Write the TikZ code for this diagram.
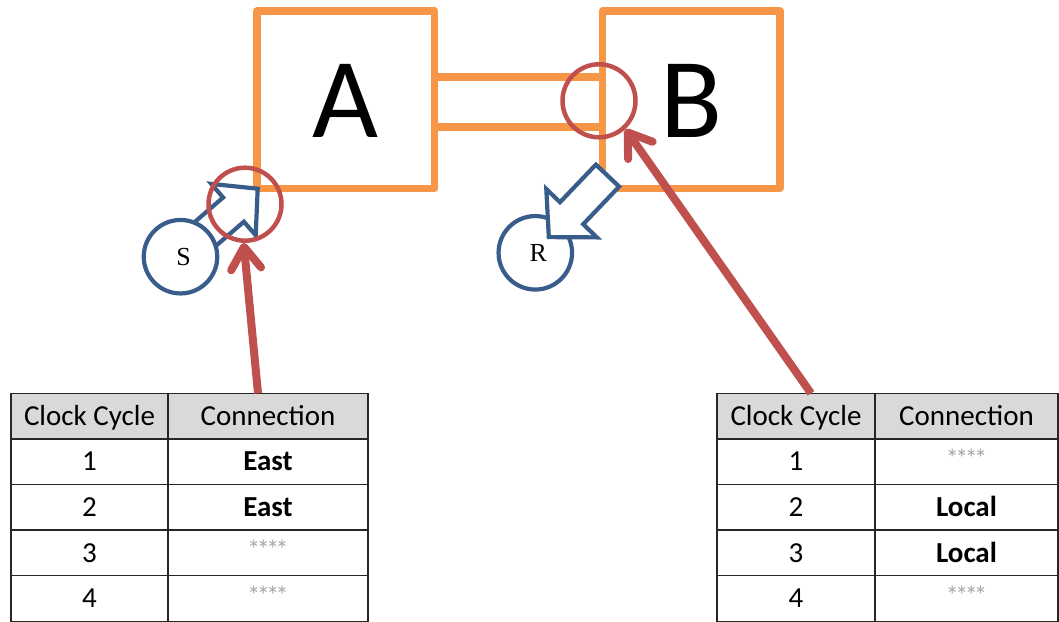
\documentclass[tikz,border=0pt]{standalone}
\usepackage{fontspec}
\setmainfont{Carlito}
\newfontfamily\lettersfont{Liberation Serif}
\usetikzlibrary{arrows.meta}

\definecolor{boxorange}{HTML}{F79646}
\definecolor{markred}{HTML}{C0504D}
\definecolor{flowblue}{HTML}{385D8A}
\definecolor{headgray}{HTML}{D9D9D9}
\definecolor{stargray}{HTML}{A6A6A6}
\definecolor{gridline}{HTML}{262626}

% empty table entry
\newcommand\nodata{\raisebox{3.5pt}{\color{stargray}\fontsize{26}{26}\selectfont
  *\kern-3.5pt*\kern-3.5pt*\kern-3.5pt*}}

\begin{document}
\begin{tikzpicture}[x=1pt,y=-1pt,
  router/.style={draw=boxorange,line width=7.5pt,fill=white,
    minimum width=177.5pt,minimum height=177.5pt,inner sep=0pt,line join=round,
    text height=75.5pt,text depth=0pt,font=\fontsize{114}{114}\selectfont},
  link/.style={draw=boxorange,line width=7.5pt,shorten <=-3pt,shorten >=-3pt},
  endpoint/.style={circle,draw=flowblue,line width=4.2pt,fill=white,
    minimum size=73.5pt,inner sep=0pt},
  endlabel/.style={font=\lettersfont\fontsize{26}{26}\selectfont,inner sep=0pt},
  flow/.style={draw=flowblue,line width=4.2pt,fill=white,line join=miter},
  focus/.style={circle,draw=markred,line width=4.5pt,minimum size=73pt,inner sep=0pt},
  pointer/.style={draw=markred,line width=8pt,
    -{Straight Barb[length=22pt,width=30pt,round]}},
  cell/.style={draw=gridline,line width=1.5pt,anchor=north west,outer sep=0pt,
    inner sep=0pt,minimum height=45.6pt,text height=32pt,text depth=13.6pt,
    font=\fontsize{29}{29}\selectfont},
  headcell/.style={cell,fill=headgray}
]
\useasboundingbox (0,0) rectangle (1059,621);

% routers and the link between them
\node[router] (A) at (345.75,99.75) {A};
\node[router] (B) at (691,99.75) {B};
\draw[link] ([yshift=22.75pt]A.east) -- ([yshift=22.75pt]B.west);
\draw[link] ([yshift=-27.25pt]A.east) -- ([yshift=-27.25pt]B.west);

% receiver and ejection arrow
\node[endpoint,label={[endlabel,xshift=3pt]center:R}] (R) at (535.3,252.8) {};
\draw[flow] (595.9,164.6) -- (560.0,202.2) -- (546.3,189.0) -- (548.8,237.1)
  -- (596.9,237.4) -- (583.2,224.2) -- (619.1,186.6) -- cycle;

% sender and injection arrow
\draw[flow] (177.7,236.7) -- (223.1,197.5) -- (211.3,183.9) -- (257.7,188.7)
  -- (255.7,235.3) -- (243.9,221.7) -- (198.5,260.9) -- cycle;
\node[endpoint,label={[endlabel,xshift=3pt]center:S}] (S) at (180.5,256.7) {};

% highlighted ports
\node[focus] (hitS) at (245,204.2) {};
\node[focus] (hitB) at (599,100.8) {};

% port schedule of router A
\node[headcell,minimum width=157pt] (L-0-1) at (11,393.3) {Clock Cycle};
\node[headcell,minimum width=200pt] (L-0-2) at (168,393.3) {Connection};
\foreach \r/\b in {1/{\textbf{East}},2/{\textbf{East}},3/\nodata,4/\nodata}{
  \node[cell,minimum width=157pt] (L-\r-1) at (11,393.3+45.6*\r) {\r};
  \node[cell,minimum width=200pt] (L-\r-2) at (168,393.3+45.6*\r) {\b};
}

% port schedule of router B
\node[headcell,minimum width=158pt] (Rt-0-1) at (717,393.3) {Clock Cycle};
\node[headcell,minimum width=183pt] (Rt-0-2) at (875,393.3) {Connection};
\foreach \r/\b in {1/\nodata,2/{\textbf{Local}},3/{\textbf{Local}},4/\nodata}{
  \node[cell,minimum width=158pt] (Rt-\r-1) at (717,393.3+45.6*\r) {\r};
  \node[cell,minimum width=183pt] (Rt-\r-2) at (875,393.3+45.6*\r) {\b};
}

% pointers from the schedules to the ports
\coordinate (tapL) at (258,393.3);
\coordinate (tapR) at (811,393.3);
\draw[pointer] (tapL) -- (hitS.-92);
\draw[pointer] (tapR) -- (hitB.-47);
\end{tikzpicture}
\end{document}
